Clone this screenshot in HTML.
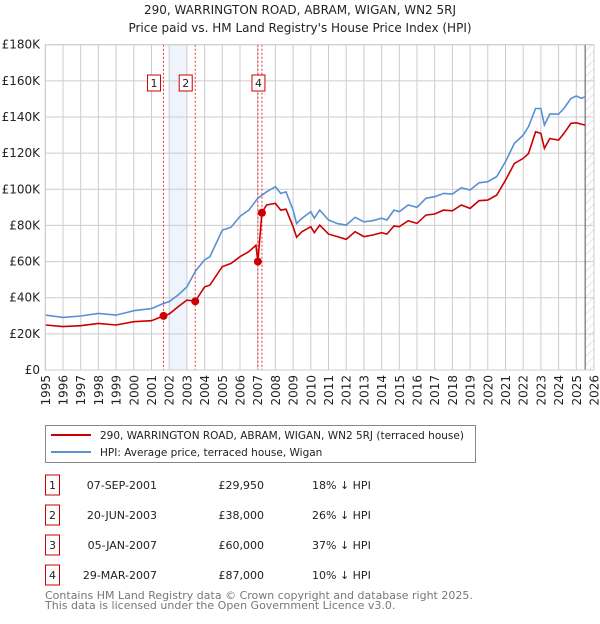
<!DOCTYPE html>
<html><head><meta charset="utf-8"><style>
body{margin:0;background:#fff;font-family:"DejaVu Sans","Liberation Sans",sans-serif;}
svg text{font-family:"DejaVu Sans","Liberation Sans",sans-serif;}
</style></head><body>
<svg id="chart" width="600" height="620" xmlns="http://www.w3.org/2000/svg">
<defs><pattern id="hatch" width="6" height="6" patternUnits="userSpaceOnUse" patternTransform="rotate(45)"><line x1="0" y1="0" x2="0" y2="6" stroke="#ccc" stroke-width="1"/></pattern></defs>
<text x="300" y="14" text-anchor="middle" font-size="12" fill="#222">290, WARRINGTON ROAD, ABRAM, WIGAN, WN2 5RJ</text>
<text x="300" y="32" text-anchor="middle" font-size="12" fill="#222">Price paid vs. HM Land Registry's House Price Index (HPI)</text>
<g id="grid"></g><g id="marks"></g><g id="axes"></g>
<rect x="45.5" y="425.5" width="430" height="37" fill="none" stroke="#888"/>
<line x1="51" y1="435" x2="91" y2="435" stroke="#cc0000" stroke-width="2"/>
<text x="100" y="439" font-size="10.5" fill="#222">290, WARRINGTON ROAD, ABRAM, WIGAN, WN2 5RJ (terraced house)</text>
<line x1="51" y1="452" x2="91" y2="452" stroke="#5b8fd4" stroke-width="2"/>
<text x="100" y="456" font-size="10.5" fill="#222">HPI: Average price, terraced house, Wigan</text>
<g id="table"></g>
<text x="45" y="599" font-size="11" fill="#777">Contains HM Land Registry data © Crown copyright and database right 2025.</text>
<text x="45" y="609" font-size="11" fill="#777">This data is licensed under the Open Government Licence v3.0.</text>
</svg>
<script>
const yTicks=[0,20000,40000,60000,80000,100000,120000,140000,160000,180000];
const yTickLabels=["£0","£20K","£40K","£60K","£80K","£100K","£120K","£140K","£160K","£180K"];
const years=[1995,1996,1997,1998,1999,2000,2001,2002,2003,2004,2005,2006,2007,2008,2009,2010,2011,2012,2013,2014,2015,2016,2017,2018,2019,2020,2021,2022,2023,2024,2025,2026];
const hpiT=[1995,1996,1997,1998,1999,2000,2001,2001.7,2002,2002.5,2003,2003.5,2004,2004.3,2005,2005.5,2006,2006.5,2007,2007.5,2008,2008.3,2008.6,2009,2009.2,2009.5,2010,2010.2,2010.5,2011,2011.5,2012,2012.5,2013,2013.5,2014,2014.3,2014.7,2015,2015.5,2016,2016.5,2017,2017.5,2018,2018.5,2019,2019.5,2020,2020.5,2021,2021.5,2022,2022.3,2022.7,2023,2023.2,2023.5,2024,2024.3,2024.7,2025,2025.3,2025.5];
const hpiV=[30.4,29.1,29.9,31.3,30.4,32.8,34,36.9,37.8,41.5,46,55,60.9,62.7,77.4,79,85,88.5,95,98.6,101.4,97.7,98.6,88.5,81,84,87.6,84,88.5,83,81,80.2,84.5,82,82.6,84,83,88.5,87.6,91.3,90,95,95.9,97.7,97.4,100.9,99.6,103.6,104.2,107,115.3,125.4,130,134.6,144.7,144.7,135.5,141.6,141.6,144.7,150.3,151.6,150.3,151.2];
const ppT=[1995,1996,1997,1998,1999,2000,2001,2001.68,2002,2002.5,2003,2003.47,2004,2004.3,2005,2005.5,2006,2006.5,2006.9,2007.01,2007.24,2007.5,2008,2008.3,2008.6,2009,2009.2,2009.5,2010,2010.2,2010.5,2011,2011.5,2012,2012.5,2013,2013.5,2014,2014.3,2014.7,2015,2015.5,2016,2016.5,2017,2017.5,2018,2018.5,2019,2019.5,2020,2020.5,2021,2021.5,2022,2022.3,2022.7,2023,2023.2,2023.5,2024,2024.3,2024.7,2025,2025.5];
const ppV=[24.9,24,24.5,25.8,24.9,26.7,27.3,29.95,31,35,38.7,38,46,47,57.2,59,62.7,65.5,69,60,87,91.3,92.2,88.5,89,79.3,73.4,76.5,79.3,76,80.2,75.2,73.8,72.3,76.5,73.8,74.7,76,75.2,79.7,79.3,82.6,81.1,85.7,86.3,88.5,88.1,91.3,89.4,93.7,94,96.8,105,114.3,117.1,119.8,131.8,130.9,122.6,128.1,127.2,130.9,136.5,136.8,135.5];
const saleLabels=["1","2","3","4"];
const saleT=[2001.68,2003.47,2007.01,2007.24];
const saleV=[29950,38000,60000,87000];
const saleDates=["07-SEP-2001","20-JUN-2003","05-JAN-2007","29-MAR-2007"];
const salePrices=["£29,950","£38,000","£60,000","£87,000"];
const saleHpi=["18% ↓ HPI","26% ↓ HPI","37% ↓ HPI","10% ↓ HPI"];

const X0=45.3,X1=594,Y0=370,Y1=44.7;
const sx=t=>X0+(t-1995)/31*(X1-X0);
const sy=v=>Y0-v/180000*(Y0-Y1);
const NS="http://www.w3.org/2000/svg";
function mk(tag,attrs,parent,txt){const e=document.createElementNS(NS,tag);for(const k in attrs)e.setAttribute(k,attrs[k]);if(txt!==undefined)e.textContent=txt;parent.appendChild(e);return e;}
const grid=document.getElementById('grid'),marks=document.getElementById('marks'),axes=document.getElementById('axes'),table=document.getElementById('table');
let band=mk('rect',{x:sx(2002),y:Y1,width:sx(2003)-sx(2002),height:Y0-Y1,fill:'#eef3fc'},grid);


let hat=mk('rect',{x:sx(2025.5),y:Y1,width:X1-sx(2025.5),height:Y0-Y1,fill:'url(#hatch)'},grid);


yTicks.forEach((v,i)=>{
  let l=mk('line',{x1:X0,x2:X1,y1:sy(v),y2:sy(v),stroke:'#ccc'},grid);
  
  
  let t=mk('text',{x:40,y:sy(v)+4,'text-anchor':'end','font-size':'12',fill:'#222'},axes,yTickLabels[i]);
  
  
});
years.forEach(y=>{
  let l=mk('line',{x1:sx(y),x2:sx(y),y1:Y1,y2:Y0,stroke:'#ccc'},grid);
  
  
  let t=mk('text',{x:0,y:0,'text-anchor':'end','font-size':'12',fill:'#222',transform:`translate(${sx(y)+4.5},375) rotate(-90)`},axes,String(y));
  
  
});
let vl=mk('line',{x1:sx(2025.5),x2:sx(2025.5),y1:Y1,y2:Y0,stroke:'#555'},grid);


saleT.forEach((t,i)=>{
  let l=mk('line',{x1:sx(t),x2:sx(t),y1:Y1,y2:Y0,stroke:'#e33','stroke-dasharray':'2,2'},grid);
  
  
});
const path=(T,V)=>T.map((t,i)=>(i?'L':'M')+sx(t).toFixed(1)+','+sy(V[i]*1000).toFixed(1)).join('');
let hp=mk('path',{d:path(hpiT,hpiV),fill:'none',stroke:'#5b8fd4','stroke-width':1.6},marks);


let pp=mk('path',{d:path(ppT,ppV),fill:'none',stroke:'#cc0000','stroke-width':1.6},marks);


saleT.forEach((t,i)=>{
  let c=mk('circle',{cx:sx(t),cy:sy(saleV[i]),r:4,fill:'#cc0000'},marks);
  
  
  if(i!==2){
    let bx=sx(t)-(i===3?4:10);
    let r=mk('rect',{x:bx-6,y:75,width:13,height:16,fill:'#fff',stroke:'#cc0000'},marks);
    
    
    let tx=mk('text',{x:bx+0.5,y:87,'text-anchor':'middle','font-size':'11',fill:'#222'},marks,saleLabels[i]);
    
    
  }
});
const rowY=[485,515,545,575];
saleLabels.forEach((s,i)=>{
  let y=rowY[i];
  let r=mk('rect',{x:45.5,y:y-10,width:14,height:20,fill:'#fff',stroke:'#cc0000'},table);
  
  
  let a=mk('text',{x:52.5,y:y+4,'text-anchor':'middle','font-size':'11',fill:'#222'},table,s);
  
  
  let b=mk('text',{x:157,y:y+4,'text-anchor':'end','font-size':'11',fill:'#222'},table,saleDates[i]);
  
  
  let c=mk('text',{x:264,y:y+4,'text-anchor':'end','font-size':'11',fill:'#222'},table,salePrices[i]);
  
  
  let d=mk('text',{x:312,y:y+4,'font-size':'11',fill:'#222'},table,saleHpi[i]);
  
  
});
let box=mk('rect',{x:X0,y:Y1,width:X1-X0,height:Y0-Y1,fill:'none',stroke:'#ccc'},axes);


</script>
</body></html>
